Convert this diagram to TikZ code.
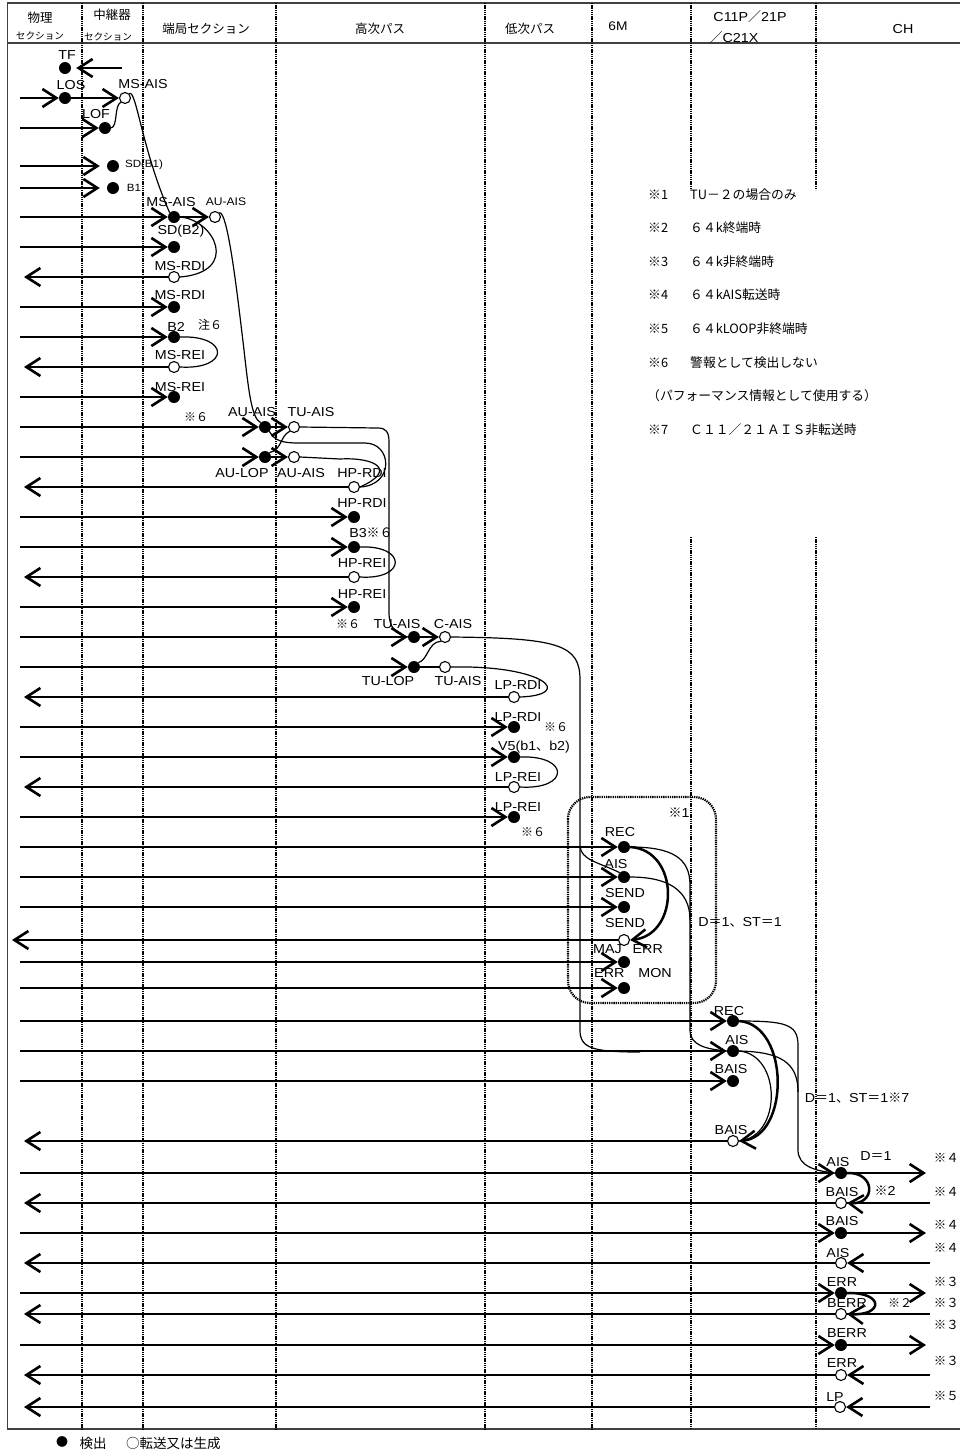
\documentclass[tikz,border=0pt]{standalone}
\usepackage{fontspec}
\setmainfont{Liberation Sans}[FakeStretch=1.1]
\newfontfamily\jp{Noto Sans CJK JP}
\usetikzlibrary{arrows.meta}

\begin{document}
\begin{tikzpicture}[
  x=1pt, y=-1pt,
  det/.style={circle, fill=black, inner sep=0pt, minimum size=12pt},
  gen/.style={circle, draw=black, fill=white, line width=1.1pt, inner sep=0pt, minimum size=11pt},
  lab/.style={inner sep=0pt, font=\fontsize{13}{14}\selectfont},
  small lab/.style={inner sep=0pt, font=\fontsize{10.5}{11}\selectfont},
  jlab/.style={inner sep=0pt, font=\jp\fontsize{12}{13}\selectfont},
  jhead/.style={inner sep=0pt, font=\jp\fontsize{12.5}{13}\selectfont},
  jsmall/.style={inner sep=0pt, font=\jp\fontsize{9.6}{10}\selectfont},
  note/.style={inner sep=0pt, font=\jp\fontsize{12.8}{13}\selectfont},
  row/.style={line width=2.6pt},
  sig/.style={row, -{Straight Barb[length=14pt, width=18pt]}},
  wire/.style={line width=1.2pt},
  loopline/.style={line width=2.5pt, -{Straight Barb[length=14pt, width=18pt]}},
  col/.style={line width=2.2pt, dash pattern=on 1.3pt off 0.9pt},
  outer/.style={line width=1.4pt, black!75}
]
\fill[white] (0,0) rectangle (960,1452);
\useasboundingbox (0,0) rectangle (960,1452);

% Frame and columns
\draw[outer] (959.5,3) -- (7.5,3) -- (7.5,1429) -- (959.5,1429);
\draw[outer] (7.5,43) -- (959.5,43);
\foreach \x in {82,143,276,485,592}
  \draw[col] (\x,3) -- (\x,1429);
\foreach \x in {691,816} {
  \draw[col] (\x,3) -- (\x,190);
  \draw[col] (\x,537) -- (\x,1429);
}
\draw[col, rounded corners=22pt] (568,797) rectangle (716,1003);

% Headers
\node[jhead] (h-phys) at (40,18) {物理};
\node[jsmall] (h-physsec) at (40,36) {セクション};
\node[jhead] (h-rep) at (112,15) {中継器};
\node[jsmall] (h-repsec) at (108,37) {セクション};
\node[jhead] (h-ms) at (206,29) {端局セクション};
\node[jhead] (h-hp) at (380,29) {高次パス};
\node[jhead] (h-lp) at (530,29) {低次パス};
\node[inner sep=0pt, font=\fontsize{12.5}{13}\selectfont] (h-sixm) at (618,26) {6M};
\node[lab] (h-cone) at (750,17) {C11P{\jp ／}21P};
\node[lab] (h-ctwo) at (734,38) {{\jp ／}C21X};
\node[lab] (h-ch) at (903,29) {CH};

% Nodes: detected
\foreach \n/\x/\y in {tf/65/68, los/65/98, lof/105/128, sdbone/113/166, bone/113/188,
    msais/174/217, sdbtwo/174/247, msrdi/174/307, btwo/174/337, msrei/174/397,
    auais/265/427, aulop/265/457, hprdi/354/517, bthree/354/547, hprei/354/607,
    tuais/414/637, tulop/414/667, lprdi/514/727, vfive/514/757, lprei/514/817,
    recm/624/847, aism/624/877, sendm/624/907, majerr/624/962, errmon/624/988,
    recc/733/1021, aisc/733/1051, baisc/733/1081,
    aish/841/1173, baish/841/1233, errh/841/1293, berrh/841/1345}
  \node[det] (\n) at (\x,\y) {};

% Nodes: forwarded or generated
\foreach \n/\x/\y in {msaisg/125/98, auaisg/215/217, msrdig/174/277, msreig/174/367,
    tuaisg/294/427, auaisg2/294/457, hprdig/354/487, hpreig/354/577,
    caisg/445/637, tuaisg2/445/667, lprdig/514/697, lpreig/514/787,
    sendg/624/940, baiscg/733/1141,
    baishg/841/1203, aishg/841/1263, berrhg/841/1314, errhg/841/1375, lphg/840/1407}
  \node[gen] (\n) at (\x,\y) {};

% Labels
\foreach \n/\x/\y/\t in {tf/67/55/TF, los/71/85/LOS, msaisg/143/84/MS-AIS, lof/96/114/LOF,
    msais/171/202/MS-AIS, sdbtwo/181/231/SD(B2), msrdig/180/266/MS-RDI, msrdi/180/295/MS-RDI,
    btwo/176/327/B2, msreig/180/355/MS-REI, msrei/180/387/MS-REI,
    auais/252/412/AU-AIS, tuaisg/311/412/TU-AIS, aulop/242/473/AU-LOP, auaisg2/301/473/AU-AIS,
    hprdig/362/473/HP-RDI, hprdi/362/503/HP-RDI, hpreig/362/563/HP-REI, hprei/362/594/HP-REI,
    tuais/397/624/TU-AIS, caisg/453/624/C-AIS, tulop/388/681/TU-LOP, tuaisg2/458/681/TU-AIS,
    lprdig/518/685/LP-RDI, lprdi/518/717/LP-RDI, lpreig/518/777/LP-REI, lprei/518/807/LP-REI,
    recm/620/832/REC, aism/616/864/AIS, sendm/625/893/SEND, sendg/625/923/SEND,
    recc/729/1011/REC, aisc/737/1040/AIS, baisc/731/1069/BAIS, baiscg/731/1130/BAIS,
    aish/838/1162/AIS, baishg/842/1192/BAIS, baish/842/1221/BAIS, aishg/838/1253/AIS,
    errh/842/1282/ERR, berrhg/847/1303/BERR, berrh/847/1333/BERR, errhg/842/1363/ERR,
    lphg/835/1397/LP}
  \node[lab] (t-\n) at (\x,\y) {\t};
\node[small lab] (t-sdbone) at (144,165) {SD(B1)};
\node[small lab] (t-bone) at (134,188) {B1};
\node[small lab, font=\fontsize{11}{12}\selectfont] (t-auaisg) at (226,202) {AU-AIS};
\node[lab] (t-bthree) at (371,533) {B3{\jp ※６}};
\node[lab] (t-vfive) at (534,747) {V5(b1{\jp 、}b2)};
\node[lab] (t-majerr) at (628,949) {MAJ\hspace{11pt}ERR};
\node[lab] (t-errmon) at (633,973) {ERR\hspace{14pt}MON};
\node[lab] (t-box) at (679,813) {{\jp ※}1};
\node[lab] (t-dst) at (740,922) {D{\jp ＝}1{\jp 、}ST{\jp ＝}1};
\node[lab] (t-dstseven) at (857,1098) {D{\jp ＝}1{\jp 、}ST{\jp ＝}1{\jp ※}7};
\node[lab] (t-done) at (876,1156) {D{\jp ＝}1};
\node[lab] (t-startwo) at (885,1191) {{\jp ※}2};
\node[jlab] (t-notesix) at (210,325) {注６};
\foreach \k/\x/\y in {a/196/417, b/348/624, c/556/727, d/533/832}
  \node[jlab] (t-six\k) at (\x,\y) {※６};
\node[jlab] (t-startwob) at (900,1303) {※２};
\foreach \y/\d in {1158/４, 1192/４, 1225/４, 1248/４, 1282/３, 1303/３, 1325/３, 1361/３, 1396/５}
  \node[inner sep=0pt, font=\jp\fontsize{12.5}{13}\selectfont, anchor=east] (r-\y) at (959,\y) {※\d};

% Notes
\foreach \k/\t/\y in {1/TU－２の場合のみ/195, 2/６４k終端時/228, 3/６４k非終端時/262,
    4/６４kAIS転送時/295, 5/６４kLOOP非終端時/329, 6/警報として検出しない/363,
    7/Ｃ１１／２１ＡＩＳ非転送時/430} {
  \node[note, anchor=west] (n-\k) at (648,\y) {※\k};
  \node[note, anchor=west] (nt-\k) at (690,\y) {\t};
}
\node[note, anchor=west] (nt-perf) at (647,396) {（パフォーマンス情報として使用する）};

% Legend
\node[jlab] (leg-dot) at (62,1442) {●};
\node[jhead, font=\jp\fontsize{13.5}{14}\selectfont] (leg-det) at (93,1443) {検出};
\node[jhead, font=\jp\fontsize{13.5}{14}\selectfont, anchor=west] (leg-gen) at (126,1443) {○転送又は生成};

% Edges of the rows
\coordinate (ledge) at (20,0);
\coordinate (ledgeb) at (24,0);
\coordinate (ledgec) at (12,0);
\coordinate (redge) at (926,0);
\coordinate (redgeb) at (930,0);
\coordinate (tfin) at (122,68);
\coordinate (cbranch) at (580,846);
\coordinate (cjoin) at (640,1052);
\coordinate (vjoin) at (690,920);
\coordinate (vjoinb) at (798,1092);

% Arrows
\foreach \n in {los, lof, msais, sdbtwo, msrdi, btwo, msrei, auais, aulop, hprdi, bthree,
    hprei, tuais, tulop, lprdi, vfive, lprei, recm, aism, sendm, majerr, errmon,
    recc, aisc, baisc, aish, baish, errh, berrh}
  \draw[sig] (ledge |- \n) -- (\n);
\foreach \n in {sdbone, bone}
  \draw[sig, shorten >=7pt] (ledge |- \n) -- (\n);
\draw[sig, shorten >=5pt] (tfin) -- (tf);
\foreach \a/\b in {los/msaisg, msais/auaisg, auais/tuaisg, aulop/auaisg2, tuais/caisg}
  \draw[sig] (\a) -- (\b);
\draw[row] (tulop) -- (tuaisg2);
\foreach \n in {msrdig, msreig, hprdig, hpreig, lprdig, lpreig, baiscg, baishg, aishg,
    berrhg, errhg, lphg}
  \draw[sig] (\n) -- (ledgeb |- \n);
\draw[sig] (sendg) -- (ledgec |- sendg);
\foreach \n in {aish, baish, errh, berrh}
  \draw[sig] (\n) -- (redge |- \n);
\foreach \n in {aishg, errhg, lphg}
  \draw[sig] (redgeb |- \n) -- (\n);
\foreach \n in {baishg, berrhg}
  \draw[wire] (redgeb |- \n) -- (\n);

% Curves
\draw[wire] (lof.east) .. controls (118,126) and (114,106) .. (msaisg.south west);
\draw[wire] (msaisg.north east) .. controls (136,88) and (142,150) .. (msais.north west);
\draw[wire] (msais.east) .. controls (215,220) and (240,272) .. (msrdig.east);
\draw[wire] (btwo.east) .. controls (230,335) and (230,370) .. (msreig.east);
\draw[wire] (auaisg.north east) .. controls (228,210) and (238,300) .. (244,350)
  .. controls (249,395) and (252,418) .. (auais.north west);
\draw[wire] (aulop.north east) .. controls (282,450) and (280,436) .. (tuaisg.south west);
\draw[wire] (auais.south east) .. controls (275,441) and (282,443) .. (300,443) -- (365,443)
  .. controls (392,443) and (395,485) .. (hprdig.east);
\draw[wire] (auaisg2.east) -- (340,459) .. controls (375,457) and (398,470) .. (hprdig.east);
\draw[wire] (bthree.east) .. controls (407,545) and (407,580) .. (hpreig.east);
\draw[wire] (tuaisg.east) -- (378,428) .. controls (386,428) and (389,432) .. (389,442)
  -- (389,612) .. controls (389,628) and (396,634) .. (tuais.west);
\draw[wire] (tulop.north east) .. controls (428,660) and (428,642) .. (caisg.south west);
\draw[wire] (tuaisg2.east) .. controls (545,665) and (575,695) .. (lprdig.east);
\draw[wire] (vfive.east) .. controls (570,755) and (570,790) .. (lpreig.east);
\draw[wire] (caisg.east) .. controls (560,638) and (580,645) .. (580,680) -- (580,1030)
  .. controls (580,1048) and (592,1052) .. (cjoin);
\draw[wire] (cbranch) .. controls (581,860) and (598,862) .. (aism.north west);
\draw[loopline] (recm.east) .. controls (680,850) and (680,935) .. (sendg.east);
\draw[wire] (recm.east) .. controls (672,847) and (690,858) .. (690,885) -- (690,1030)
  .. controls (690,1045) and (705,1049) .. (aisc.west);
\draw[wire] (aism.east) .. controls (668,877) and (690,890) .. (vjoin);
\draw[loopline] (recc.east) .. controls (790,1025) and (790,1137) .. (baiscg.east);
\draw[wire] (aisc.east) .. controls (782,1055) and (782,1137) .. (baiscg.east);
\draw[wire] (recc.east) .. controls (785,1021) and (798,1024) .. (798,1045) -- (798,1150)
  .. controls (798,1166) and (815,1171) .. (aish.west);
\draw[wire] (aisc.east) .. controls (780,1052) and (798,1062) .. (vjoinb);
\draw[loopline] (aish.east) .. controls (876,1172) and (876,1205) .. (baishg.east);
\draw[loopline] (errh.east) .. controls (884,1292) and (884,1316) .. (berrhg.east);

\end{tikzpicture}
\end{document}
